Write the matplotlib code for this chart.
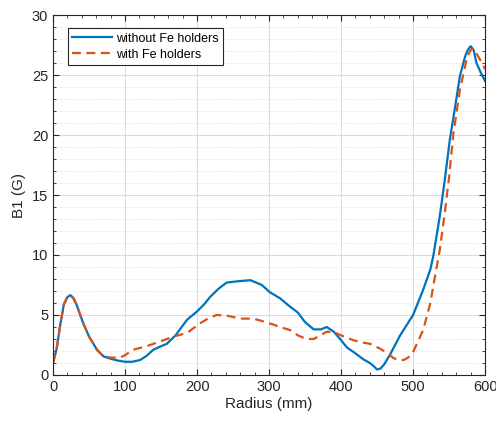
import numpy as np
import matplotlib.pyplot as plt
from matplotlib.ticker import MultipleLocator

plt.rcParams['font.family'] = ['Liberation Sans', 'DejaVu Sans']

# values (radius in mm, B1 in G)
r_without = [0, 5, 10, 15, 20, 24, 28, 32, 36, 42, 50, 61, 70, 80, 90, 100, 110, 121,
             130, 139, 150, 158, 170, 186, 200, 210, 218, 230, 241, 255, 274, 290,
             301, 315, 329, 340, 350, 362, 372, 380, 390, 400, 408, 420, 431, 440,
             446, 450, 455, 460, 468, 482, 500, 514, 524, 528, 537, 544, 551, 558,
             565, 572, 576, 580, 584, 588, 594, 600]
b_without = [1.0, 2.2, 4.2, 5.9, 6.5, 6.65, 6.45, 5.95, 5.3, 4.3, 3.2, 2.1, 1.55, 1.35,
             1.2, 1.1, 1.1, 1.25, 1.6, 2.1, 2.4, 2.6, 3.3, 4.6, 5.3, 5.9, 6.5, 7.2,
             7.7, 7.8, 7.9, 7.5, 6.9, 6.4, 5.7, 5.2, 4.4, 3.8, 3.8, 4.0, 3.6, 2.9,
             2.3, 1.8, 1.3, 1.0, 0.7, 0.45, 0.55, 0.9, 1.7, 3.3, 5.0, 7.1, 8.8, 9.9,
             13.2, 16.25, 19.6, 22.2, 24.9, 26.5, 27.1, 27.4, 27.1, 26.0, 25.2, 24.5]

r_with = [0, 5, 10, 15, 20, 24, 28, 32, 36, 42, 50, 61, 70, 80, 93, 100, 111, 130,
          149, 167, 186, 204, 215, 227, 241, 260, 278, 290, 306, 315, 329, 340, 352,
          362, 371, 380, 389, 400, 417, 430, 440, 454, 465, 473, 480, 487, 493, 500,
          514, 524, 528, 537, 544, 550, 556, 565, 575, 580, 584, 590, 600]
b_with = [1.0, 2.2, 4.2, 5.9, 6.5, 6.6, 6.4, 5.95, 5.3, 4.3, 3.2, 2.1, 1.55, 1.45,
          1.45, 1.65, 2.1, 2.4, 2.8, 3.2, 3.5, 4.3, 4.7, 5.0, 4.95, 4.7, 4.7, 4.5,
          4.2, 4.0, 3.75, 3.3, 3.0, 3.0, 3.3, 3.6, 3.6, 3.3, 2.9, 2.7, 2.6, 2.2,
          1.8, 1.4, 1.25, 1.25, 1.45, 1.9, 3.75, 6.0, 7.4, 10.4, 13.5, 16.5, 20.1,
          23.75, 26.5, 27.1, 27.2, 26.6, 25.5]

fig = plt.figure(figsize=(4.96, 4.23), dpi=100)
ax = fig.add_axes([0.107, 0.1135, 0.871, 0.851])

ax.plot(r_without, b_without, color='#0072BD', lw=1.6, label='without Fe holders')
ax.plot(r_with, b_with, color='#D95319', lw=1.6, ls=(0, (4, 2.5)), label='with Fe holders')

ax.set_xlim(0, 600)
ax.set_ylim(0, 30)
ax.xaxis.set_major_locator(MultipleLocator(100))
ax.xaxis.set_minor_locator(MultipleLocator(20))
ax.yaxis.set_major_locator(MultipleLocator(5))
ax.yaxis.set_minor_locator(MultipleLocator(1))

ax.grid(True, which='major', color='#dcdcdc', lw=0.8)
ax.grid(True, which='minor', axis='y', color='#d8d8d8', lw=0.6, ls=(0, (1, 2)))
ax.set_axisbelow(True)

ax.tick_params(which='both', direction='in', top=True, right=True, labelsize=10.5,
               colors='#262626')
ax.tick_params(which='major', length=4)
ax.tick_params(which='minor', length=2)
for s in ax.spines.values():
    s.set_color('#262626')
    s.set_linewidth(0.8)

ax.set_xlabel('Radius (mm)', fontsize=11, color='#262626', labelpad=2)
ax.set_ylabel('B1 (G)', fontsize=11, color='#262626', labelpad=4)

leg = ax.legend(loc='upper left', fontsize=9, fancybox=False, framealpha=1,
                edgecolor='#262626', handlelength=3.2, borderpad=0.35,
                labelspacing=0.3, handletextpad=0.3, bbox_to_anchor=(0.02, 0.98))
leg.get_frame().set_linewidth(0.8)

fig.savefig('out.png', dpi=100)
